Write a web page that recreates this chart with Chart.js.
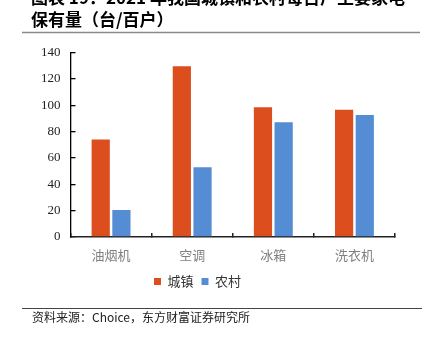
<!DOCTYPE html>
<html>
<head>
<meta charset="utf-8">
<script src="https://cdn.jsdelivr.net/npm/chart.js@4"></script>
<style>
  html, body { margin: 0; padding: 0; background: #fff; }
  #wrap { width: 431px; height: 340px; }
</style>
</head>
<body>
<div id="wrap"><canvas id="chart" width="431" height="340"></canvas></div>
<script>
// appliances per 100 households
const categories = ['油烟机', '空调', '冰箱', '洗衣机'];
const urbanValues = [74, 129.5, 98.5, 96.5];
const ruralValues = [20.5, 53, 87, 92.5];
const yTicks = [0, 20, 40, 60, 80, 100, 120, 140];

const titleLines = ['图表 19：2021 年我国城镇和农村每百户主要家电', '保有量（台/百户）'];
const sourceText = '资料来源：Choice，东方财富证券研究所';

const cjk = '"Noto Sans CJK SC", sans-serif';

// header, rules and source line around the plot
const frame = {
    id: 'frame',
    beforeDraw(chart) {
        const ctx = chart.ctx;
        ctx.save();
        ctx.fillStyle = '#000';
        ctx.font = 'bold 17px ' + cjk;
        ctx.textBaseline = 'alphabetic';
        ctx.fillText(titleLines[0], 31, 4);
        ctx.fillText(titleLines[1], 31, 26);

        ctx.strokeStyle = '#8a8a8a';
        ctx.lineWidth = 1.5;
        ctx.beginPath();
        ctx.moveTo(22, 32.5);
        ctx.lineTo(420, 32.5);
        ctx.stroke();

        ctx.strokeStyle = '#444';
        ctx.lineWidth = 1;
        ctx.beginPath();
        ctx.moveTo(22, 308.5);
        ctx.lineTo(422, 308.5);
        ctx.stroke();

        ctx.fillStyle = '#222';
        ctx.font = '12px ' + cjk;
        ctx.textBaseline = 'middle';
        ctx.fillText(sourceText, 32, 317);
        ctx.restore();
    }
};

new Chart(document.getElementById('chart'), {
    type: 'bar',
    data: {
        labels: categories,
        datasets: [{
            label: '城镇',
            data: urbanValues,
            backgroundColor: '#DC4E1E',
            categoryPercentage: 0.51,
            barPercentage: 0.88
        }, {
            label: '农村',
            data: ruralValues,
            backgroundColor: '#548DD4',
            categoryPercentage: 0.51,
            barPercentage: 0.88
        }]
    },
    options: {
        responsive: false,
        animation: false,
        layout: { padding: { top: 52.5, right: 36, bottom: 42, left: 0 } },
        plugins: {
            tooltip: { enabled: false },
            legend: {
                position: 'bottom',
                labels: {
                    boxWidth: 7,
                    boxHeight: 7,
                    padding: 8,
                    color: '#333',
                    font: { family: cjk, size: 13 }
                }
            }
        },
        scales: {
            x: {
                afterFit: s => { s.height = 30; },
                border: { color: '#222', width: 1.5 },
                grid: { drawOnChartArea: false, tickLength: -4, color: '#222', lineWidth: 1.5 },
                ticks: { color: '#808080', padding: 14, font: { family: cjk, size: 13 } }
            },
            y: {
                min: 0,
                max: 140,
                afterFit: s => { s.width = 70.5; },
                afterBuildTicks: s => { s.ticks = yTicks.map(v => ({ value: v })); },
                border: { color: '#000', width: 1.3 },
                grid: { drawOnChartArea: false, tickLength: -5, color: '#000', lineWidth: 1.3 },
                ticks: { color: '#222', padding: 15, font: { family: '"Liberation Serif", serif', size: 13 } }
            }
        }
    },
    plugins: [frame]
});
</script>
</body>
</html>
